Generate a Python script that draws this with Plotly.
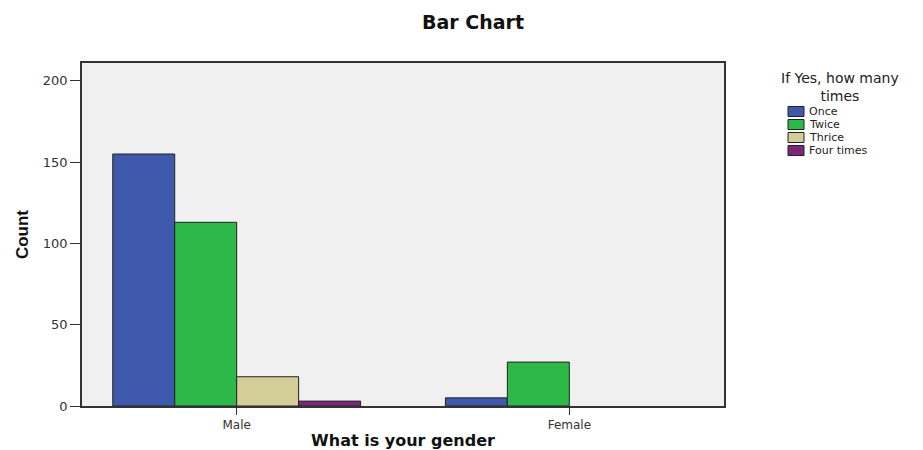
import plotly.graph_objects as go

categories = ["Male", "Female"]
series_names = ["Once", "Twice", "Thrice", "Four times"]
once = [155, 5]
twice = [113, 27]
thrice = [18, None]
four_times = [3, None]
series_values = [once, twice, thrice, four_times]
colors = ["#3E58AC", "#2EB848", "#D3CE97", "#7B277C"]
legend_title = "If Yes, how many<br>times"

W, H = 923, 450
ML, MR, MT, MB = 82, 199, 63, 44
PW, PH = W - ML - MR, H - MT - MB


def px(x):
    return (x - ML) / PW


def py(y):
    return (H - MB - y) / PH


fig = go.Figure()
for name, vals, col in zip(series_names, series_values, colors):
    fig.add_trace(go.Bar(
        x=categories, y=vals, name=name, showlegend=False,
        marker=dict(color=col, line=dict(color="#222", width=1)),
    ))

# manual legend (SPSS-style compact legend)
fig.add_annotation(text=legend_title, xref="paper", yref="paper", x=px(840), y=py(68),
                   xanchor="center", yanchor="top", showarrow=False, align="center",
                   font=dict(family="DejaVu Sans", size=14, color="#222"))
row_y = [111.5, 124.5, 137.5, 150.5]
for name, col, ry in zip(series_names, colors, row_y):
    fig.add_shape(type="rect", xref="paper", yref="paper",
                  x0=px(788), x1=px(804), y0=py(ry - 5), y1=py(ry + 5),
                  fillcolor=col, line=dict(color="#222", width=1))
    fig.add_annotation(text=name, xref="paper", yref="paper", x=px(807), y=py(ry),
                       xanchor="left", yanchor="middle", showarrow=False,
                       font=dict(family="DejaVu Sans", size=11, color="#222"))

fig.update_layout(
    width=W, height=H,
    barmode="group", bargap=0.255, bargroupgap=0,
    paper_bgcolor="white", plot_bgcolor="#F0F0F0",
    margin=dict(l=ML, r=MR, t=MT, b=MB, autoexpand=False),
    font=dict(family="DejaVu Sans, sans-serif", color="#222"),
    title=dict(text="<b>Bar Chart</b>", x=473 / W, xanchor="center", y=1 - 22 / H, yanchor="middle",
               font=dict(family="DejaVu Sans", size=19, color="#111")),
    showlegend=False,
)
fig.update_xaxes(
    range=[-0.465, 1.465], showline=True, mirror=True, linecolor="#333", linewidth=1.5,
    ticks="outside", ticklen=7, tickcolor="#333", automargin=False,
    tickfont=dict(family="DejaVu Sans", size=12, color="#333"),
    title=dict(text="<b>What is your gender</b>", font=dict(family="DejaVu Sans", size=16, color="#111"), standoff=10),
    showgrid=False,
)
fig.update_yaxes(
    range=[0, 211], tickvals=[0, 50, 100, 150, 200], showline=True, mirror=True,
    linecolor="#333", linewidth=1.5, ticks="outside", ticklen=10, tickcolor="#333",
    tickfont=dict(family="DejaVu Sans", size=13, color="#333"), showgrid=False, zeroline=False,
    automargin=False,
    title=dict(text="<b>Count</b>", font=dict(size=17, color="#111", family="Liberation Sans, sans-serif"), standoff=10),
)

fig.write_html("out.html", config={"displayModeBar": False},
               post_script="document.body.style.margin='0';")
